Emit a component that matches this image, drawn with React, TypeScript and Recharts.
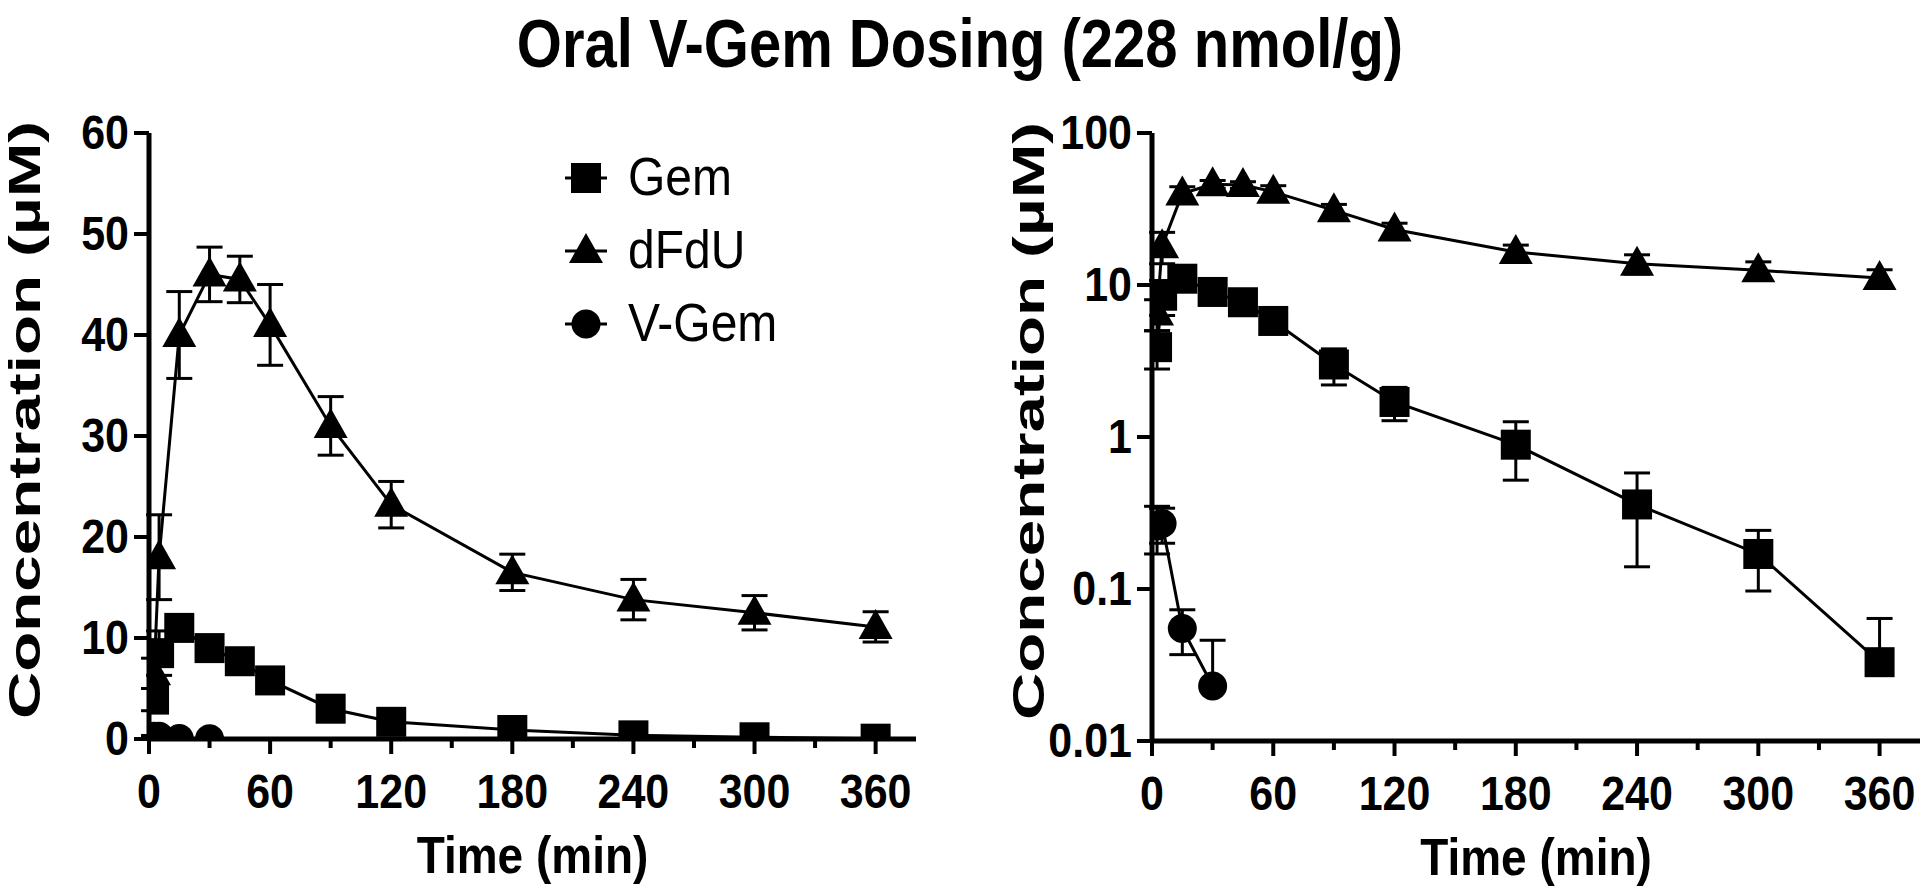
import React from "react";
import { LineChart, Line, XAxis, YAxis, ErrorBar, Legend } from "recharts";

// time points (min) and mean ± SD concentrations (µM)
const gemTime = [2.5, 5, 15, 30, 45, 60, 90, 120, 180, 240, 300, 360];
const gemMean = [3.9, 8.5, 11, 9.0, 7.7, 5.8, 3.0, 1.7, 0.89, 0.36, 0.17, 0.033];
const gemSd = [1.1, 2.2, 1.0, 0.8, 0.6, 0.5, 0.8, 0.42, 0.37, 0.22, 0.073, 0.031];

const dfduTime = [2.5, 5, 15, 30, 45, 60, 90, 120, 180, 240, 300, 360];
const dfduMean = [6.5, 18, 40, 46, 45.5, 41, 31, 23.2, 16.5, 13.8, 12.5, 11.1];
const dfduSd = [1.5, 4.2, 4.3, 2.7, 2.3, 4.0, 2.9, 2.3, 1.8, 2.0, 1.7, 1.5];

const vgemTime = [2.5, 5, 15, 30];
const vgemMean = [0.26, 0.27, 0.055, 0.023];
const vgemSd = [0.09, 0.07, 0.018, 0.023];

const xTicks = [0, 30, 60, 90, 120, 150, 180, 210, 240, 270, 300, 330, 360];
const linTicks = [0, 10, 20, 30, 40, 50, 60];
const logTicks = [0.01, 0.1, 1, 10, 100];
const logTickLabels = ["0.01", "0.1", "1", "10", "100"];

const FONT = "'Liberation Sans', Arial, Helvetica, sans-serif";
const LOG_MIN = 0.01;

function rows(times: number[], means: number[], sds: number[], log: boolean) {
  return times.map((t, i) => {
    const v = means[i];
    const sd = sds[i];
    // on the log panel a lower bar below the axis floor is not drawn
    const e = log ? (v - sd < LOG_MIN ? [0, sd] : [sd, sd]) : [sd, sd];
    return { t, v, e };
  });
}

const Square = ({ cx, cy }: any) => (
  <rect x={cx - 15} y={cy - 15} width={30} height={30} fill="#000" />
);
const Triangle = ({ cx, cy }: any) => (
  <polygon points={`${cx},${cy - 18} ${cx - 17},${cy + 12} ${cx + 17},${cy + 12}`} fill="#000" />
);
const Circle = ({ cx, cy }: any) => <circle cx={cx} cy={cy} r={14.5} fill="#000" />;

const squareDot = (p: any) => <Square key={`s${p.index}`} cx={p.cx} cy={p.cy} />;
const triangleDot = (p: any) => <Triangle key={`t${p.index}`} cx={p.cx} cy={p.cy} />;
const circleDot = (p: any) => <Circle key={`c${p.index}`} cx={p.cx} cy={p.cy} />;

const XTick = (props: any) => {
  const { x, y, payload } = props;
  const major = payload.value % 60 === 0;
  return (
    <g>
      <line x1={x} x2={x} y1={y} y2={y + (major ? 15 : 9)} stroke="#000" strokeWidth={4} />
      {major && (
        <text
          transform={`translate(${x},${y + 69}) scale(1,1.12)`}
          textAnchor="middle"
          fontFamily={FONT}
          fontWeight="bold"
          fontSize={43}
          fill="#000"
        >
          {payload.value}
        </text>
      )}
    </g>
  );
};

const YTick = (props: any) => {
  const { x, y, payload, labels } = props;
  const text = labels ? labels[logTicks.indexOf(payload.value)] : String(payload.value);
  return (
    <g>
      <line x1={x - 15} x2={x} y1={y} y2={y} stroke="#000" strokeWidth={4} />
      <text
        transform={`translate(${x - 20},${y + 16}) scale(1,1.12)`}
        textAnchor="end"
        fontFamily={FONT}
        fontWeight="bold"
        fontSize={43}
        fill="#000"
      >
        {text}
      </text>
    </g>
  );
};

const YLabel = ({ viewBox, dx }: any) => {
  const cx = viewBox.x + dx;
  const cy = viewBox.y + viewBox.height / 2 - 16;
  return (
    <text
      transform={`translate(${cx},${cy}) rotate(-90)`}
      textAnchor="middle"
      fontFamily={FONT}
      fontWeight="bold"
      fontSize={45}
      textLength={598}
      lengthAdjust="spacingAndGlyphs"
      fill="#000"
    >
      Concentration (µM)
    </text>
  );
};

const XLabel = ({ viewBox }: any) => (
  <text
    transform={`translate(${viewBox.x + viewBox.width / 2},${viewBox.y + 134}) scale(1,1.12)`}
    textAnchor="middle"
    fontFamily={FONT}
    fontWeight="bold"
    fontSize={46}
    fill="#000"
  >
    Time (min)
  </text>
);

const legendItems = [
  { name: "Gem", Shape: Square },
  { name: "dFdU", Shape: Triangle },
  { name: "V-Gem", Shape: Circle },
];

const LegendBox = () => (
  <svg width={320} height={230}>
    {legendItems.map(({ name, Shape }, i) => {
      const y = 33 + i * 73;
      return (
        <g key={name}>
          <line x1={10} x2={52} y1={y} y2={y} stroke="#000" strokeWidth={3} />
          <Shape cx={31} cy={y} />
          <text
            transform={`translate(73,${y + 17}) scale(1,1.1)`}
            fontFamily={FONT}
            fontSize={48}
            fill="#000"
          >
            {name}
          </text>
        </g>
      );
    })}
  </svg>
);

function Panel({ log }: { log: boolean }) {
  const yWidth = log ? 192 : 149;
  return (
    <LineChart
      width={960}
      height={892}
      margin={{ top: 133, right: log ? 0 : 44, bottom: 0, left: 0 }}
    >
      <XAxis
        type="number"
        dataKey="t"
        domain={[0, 380]}
        ticks={xTicks}
        interval={0}
        allowDataOverflow
        height={log ? 151 : 153}
        tickSize={0}
        tickMargin={0}
        tickLine={false}
        axisLine={{ stroke: "#000", strokeWidth: 5 }}
        tick={<XTick />}
        label={<XLabel />}
      />
      {log ? (
        <YAxis
          type="number"
          scale="log"
          domain={[0.01, 100]}
          ticks={logTicks}
          interval={0}
          allowDataOverflow
          width={yWidth}
          tickSize={0}
          tickMargin={0}
          tickLine={false}
          axisLine={{ stroke: "#000", strokeWidth: 5 }}
          tick={<YTick labels={logTickLabels} />}
          label={<YLabel dx={84} />}
        />
      ) : (
        <YAxis
          type="number"
          domain={[0, 60]}
          ticks={linTicks}
          interval={0}
          allowDataOverflow
          width={yWidth}
          tickSize={0}
          tickMargin={0}
          tickLine={false}
          axisLine={{ stroke: "#000", strokeWidth: 5 }}
          tick={<YTick />}
          label={<YLabel dx={40} />}
        />
      )}
      <Line
        data={rows(dfduTime, dfduMean, dfduSd, log)}
        dataKey="v"
        name="dFdU"
        stroke="#000"
        strokeWidth={3}
        dot={triangleDot}
        activeDot={false}
        isAnimationActive={false}
      >
        <ErrorBar dataKey="e" direction="y" width={13} strokeWidth={3} stroke="#000" />
      </Line>
      <Line
        data={rows(gemTime, gemMean, gemSd, log)}
        dataKey="v"
        name="Gem"
        stroke="#000"
        strokeWidth={3}
        dot={squareDot}
        activeDot={false}
        isAnimationActive={false}
      >
        <ErrorBar dataKey="e" direction="y" width={13} strokeWidth={3} stroke="#000" />
      </Line>
      <Line
        data={rows(vgemTime, vgemMean, vgemSd, log)}
        dataKey="v"
        name="V-Gem"
        stroke="#000"
        strokeWidth={3}
        dot={circleDot}
        activeDot={false}
        isAnimationActive={false}
      >
        <ErrorBar dataKey="e" direction="y" width={13} strokeWidth={3} stroke="#000" />
      </Line>
      {!log && (
        <Legend
          layout="vertical"
          align="center"
          verticalAlign="middle"
          content={<LegendBox />}
          wrapperStyle={{ left: 555, top: 145, width: 320, height: 230 }}
        />
      )}
    </LineChart>
  );
}

export default function App() {
  return (
    <div
      style={{
        position: "absolute",
        left: 0,
        top: 0,
        width: 1920,
        height: 892,
        background: "#fff",
        overflow: "hidden",
      }}
    >
      <div
        style={{
          position: "absolute",
          left: 0,
          top: 2,
          width: 1920,
          textAlign: "center",
          fontFamily: FONT,
          fontWeight: "bold",
          fontSize: 58,
          lineHeight: "70px",
          color: "#000",
          transform: "scaleY(1.18)",
          transformOrigin: "center top",
        }}
      >
        Oral V-Gem Dosing (228 nmol/g)
      </div>
      <div style={{ position: "absolute", left: 0, top: 0 }}>
        <Panel log={false} />
      </div>
      <div style={{ position: "absolute", left: 960, top: 0 }}>
        <Panel log={true} />
      </div>
    </div>
  );
}
